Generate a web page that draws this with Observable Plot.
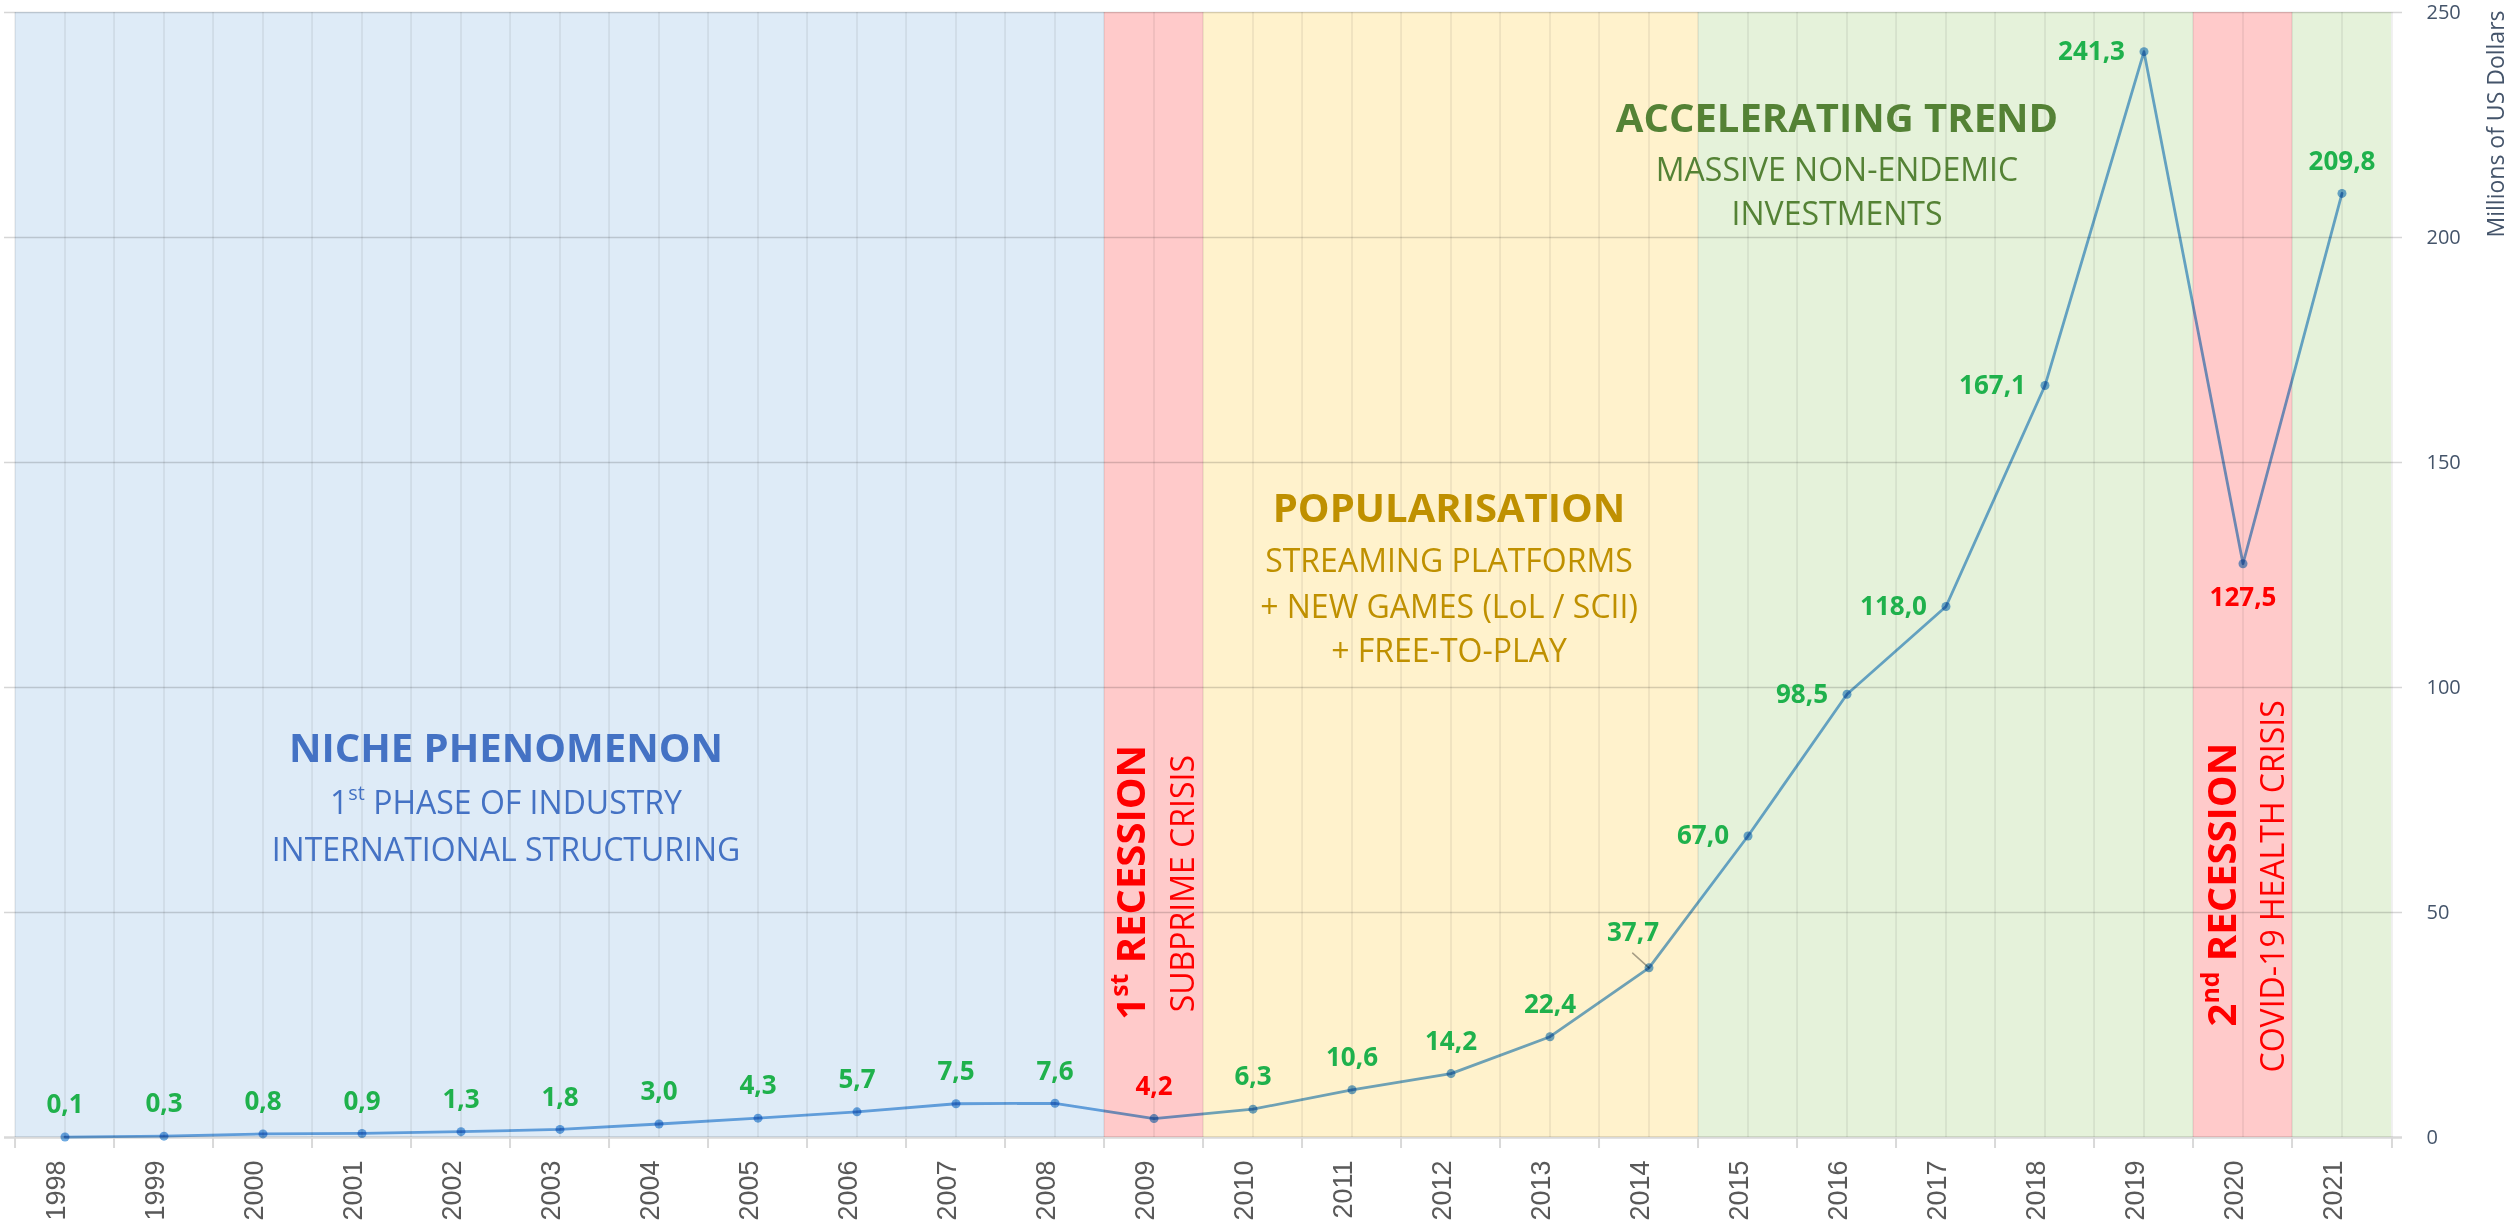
<!DOCTYPE html>
<html>
<head>
<meta charset="utf-8">
<script src="https://cdn.jsdelivr.net/npm/d3@7"></script>
<script src="https://cdn.jsdelivr.net/npm/@observablehq/plot@0.6"></script>
<style>
  html, body { margin: 0; padding: 0; background: #ffffff; overflow: hidden; }
  #chart svg { display: block; max-width: none; }
</style>
</head>
<body>
<div id="chart"></div>
<script>
// ---------------- DATA ----------------
const years = ["1998","1999","2000","2001","2002","2003","2004","2005","2006","2007","2008",
               "2009","2010","2011","2012","2013","2014","2015","2016","2017","2018","2019","2020","2021"];
const values = [0.1, 0.3, 0.8, 0.9, 1.3, 1.8, 3.0, 4.3, 5.7, 7.5, 7.6,
                4.2, 6.3, 10.6, 14.2, 22.4, 37.7, 67.0, 98.5, 118.0, 167.1, 241.3, 127.5, 209.8];
const phases = [
  {key: "niche",          first: "1998", last: "2008"},
  {key: "recession",      first: "2009", last: "2009"},
  {key: "popularisation", first: "2010", last: "2014"},
  {key: "accelerating",   first: "2015", last: "2019"},
  {key: "recession",      first: "2020", last: "2020"},
  {key: "accelerating",   first: "2021", last: "2021"}
];
const yTicks = [0, 50, 100, 150, 200, 250];
const yTitle = "Millions of US Dollars";
const nicheText = ["NICHE PHENOMENON", "1{st} PHASE OF INDUSTRY", "INTERNATIONAL STRUCTURING"];
const popularText = ["POPULARISATION", "STREAMING PLATFORMS", "+ NEW GAMES (LoL / SCII)", "+ FREE-TO-PLAY"];
const accelText = ["ACCELERATING TREND", "MASSIVE NON-ENDEMIC", "INVESTMENTS"];
const recession1Text = ["1{st} RECESSION", "SUBPRIME CRISIS"];
const recession2Text = ["2{nd} RECESSION", "COVID-19 HEALTH CRISIS"];

// ---------------- STYLE / LAYOUT ----------------
const W = 2509, H = 1226;
const M = {top: 12, right: 107, bottom: 89, left: 4};
const bw = (W - M.left - M.right) / years.length;
const FONT = "'Open Sans', sans-serif";
const phaseStyle = {
  niche:          {fill: "#DEEBF7", text: "#4472C4"},
  recession:      {fill: "#FFCACA", text: "#FF0000"},
  popularisation: {fill: "#FFF2CC", text: "#BF9000"},
  accelerating:   {fill: "#E5F2DA", text: "#548235"}
};
const lineColor = "#6EAAE1";
const labelGreen = "#1FB14C";
const leftLabels = new Set(["2015","2016","2017","2018","2019"]);
const belowLabels = new Set(["2020"]);
const leaderLabels = new Set(["2014"]);

const phaseOf = y => phases.find(p => y >= p.first && y <= p.last).key;
const rows = years.map((year, i) => ({year, value: values[i], phase: phaseOf(year)}));
const fmt = v => v.toFixed(1).replace(".", ",");
const labelFill = d => d.phase === "recession" ? phaseStyle.recession.text : labelGreen;

const TITLE = 40, SUB = 32, LABEL = 26;
const notes = [
  {t: nicheText[0], x: "2002", dx: 45, y: 86.2, size: TITLE, bold: true, c: phaseStyle.niche.text},
  {t: nicheText[1], x: "2002", dx: 45, y: 74.2, size: SUB, c: phaseStyle.niche.text},
  {t: nicheText[2], x: "2002", dx: 45, y: 63.8, size: SUB, c: phaseStyle.niche.text},
  {t: popularText[0], x: "2012", dx: -2, y: 139.6, size: TITLE, bold: true, c: phaseStyle.popularisation.text},
  {t: popularText[1], x: "2012", dx: -2, y: 128.0, size: SUB, c: phaseStyle.popularisation.text},
  {t: popularText[2], x: "2012", dx: -2, y: 117.8, size: SUB, c: phaseStyle.popularisation.text},
  {t: popularText[3], x: "2012", dx: -2, y: 108.0, size: SUB, c: phaseStyle.popularisation.text},
  {t: accelText[0], x: "2016", dx: -10, y: 226.4, size: TITLE, bold: true, c: phaseStyle.accelerating.text},
  {t: accelText[1], x: "2016", dx: -10, y: 214.9, size: SUB, c: phaseStyle.accelerating.text},
  {t: accelText[2], x: "2016", dx: -10, y: 205.1, size: SUB, c: phaseStyle.accelerating.text},
  {t: recession1Text[0], x: "2009", dx: -22, y: 56.7, size: TITLE, bold: true, rot: -90, c: phaseStyle.recession.text},
  {t: recession1Text[1], x: "2009", dx: 30, y: 56.4, size: SUB, rot: -90, c: phaseStyle.recession.text},
  {t: recession2Text[0], x: "2020", dx: -20, y: 56.2, size: TITLE, bold: true, rot: -90, c: phaseStyle.recession.text},
  {t: recession2Text[1], x: "2020", dx: 31, y: 55.8, size: SUB, rot: -90, c: phaseStyle.recession.text}
];

const last = [years[years.length - 1]];

const chart = Plot.plot({
  width: W, height: H,
  marginTop: M.top, marginRight: M.right, marginBottom: M.bottom, marginLeft: M.left,
  style: {fontFamily: FONT, background: "#ffffff", overflow: "visible", maxWidth: "none"},
  x: {type: "band", domain: years, padding: 0, axis: null},
  y: {domain: [0, 250], axis: null},
  color: {type: "identity"},
  marks: [
    // phase backgrounds
    Plot.barY(rows, {x: "year", y1: 0, y2: 250, fill: d => phaseStyle[d.phase].fill, inset: 0, shapeRendering: "crispEdges"}),
    // vertical grid: centres and edges
    Plot.ruleX(years, {x: d => d, y1: 0, y2: 250, stroke: "#EBEBEB", strokeWidth: 1.5, mixBlendMode: "multiply"}),
    Plot.ruleX(years, {x: d => d, dx: -bw / 2, y1: 0, y2: 250, stroke: "#EBEBEB", strokeWidth: 1.5, mixBlendMode: "multiply"}),
    Plot.ruleX(last, {x: d => d, dx: bw / 2, y1: 0, y2: 250, stroke: "#EBEBEB", strokeWidth: 1.5, mixBlendMode: "multiply"}),
    // horizontal grid
    Plot.ruleY(yTicks.filter(v => v > 0), {y: d => d, stroke: "#D6D6D6", strokeWidth: 1.5, mixBlendMode: "multiply"}),
    // x axis baseline and ticks
    Plot.ruleY([0], {y: d => d, stroke: "#D9D9D9", strokeWidth: 2.5, mixBlendMode: "multiply"}),
    Plot.ruleX(years, {x: d => d, dx: -bw / 2, y1: 0, y2: 0, insetBottom: -11, stroke: "#D9D9D9", strokeWidth: 2}),
    Plot.ruleX(last, {x: d => d, dx: bw / 2, y1: 0, y2: 0, insetBottom: -11, stroke: "#D9D9D9", strokeWidth: 2}),
    // x tick labels
    Plot.text(years, {x: d => d, text: d => d, frameAnchor: "bottom", dy: 23, rotate: -90, textAnchor: "end",
                      fontSize: 27, fontFamily: "'Liberation Sans', Arial, sans-serif", fill: "#595959"}),
    // y tick labels (right)
    Plot.text(yTicks, {y: d => d, text: d => String(d), frameAnchor: "right", dx: 24, textAnchor: "start",
                       fontSize: 20, fill: "#44546A"}),
    Plot.text([yTitle], {text: d => d, frameAnchor: "top-right", dx: 85, dy: -2, rotate: -90, textAnchor: "end",
                         fontSize: 23, fill: "#44546A"}),
    // phase annotations
    ...notes.map(n => Plot.text([n], {x: d => d.x, y: d => d.y, text: d => d.t, dx: n.dx, rotate: n.rot || 0,
                                       textAnchor: "middle", fontSize: n.size, fontWeight: n.bold ? "bold" : "normal",
                                       fill: n.c})),
    // leader line for 2014 label
    Plot.vector(rows.filter(d => leaderLabels.has(d.year)), {x: "year", y: "value", length: 22, rotate: -48, r: 0,
                anchor: "start", stroke: "#A6A6A6", strokeWidth: 1.5, mixBlendMode: "multiply"}),
    // series
    Plot.line(rows, {x: "year", y: "value", stroke: lineColor, strokeWidth: 2.8, mixBlendMode: "multiply"}),
    Plot.dot(rows, {x: "year", y: "value", r: 4.5, fill: lineColor, stroke: "none", mixBlendMode: "multiply"}),
    // data labels
    Plot.text(rows.filter(d => !leftLabels.has(d.year) && !belowLabels.has(d.year) && !leaderLabels.has(d.year)),
              {x: "year", y: "value", text: d => fmt(d.value), dy: -32, fill: labelFill, fontSize: LABEL, fontWeight: "bold"}),
    Plot.text(rows.filter(d => leftLabels.has(d.year)),
              {x: "year", y: "value", text: d => fmt(d.value), dx: -19, textAnchor: "end", fill: labelFill, fontSize: LABEL, fontWeight: "bold"}),
    Plot.text(rows.filter(d => belowLabels.has(d.year)),
              {x: "year", y: "value", text: d => fmt(d.value), dy: 34, fill: labelFill, fontSize: LABEL, fontWeight: "bold"}),
    Plot.text(rows.filter(d => leaderLabels.has(d.year)),
              {x: "year", y: "value", text: d => fmt(d.value), dx: -16, dy: -35, fill: labelFill, fontSize: LABEL, fontWeight: "bold"})
  ]
});

// superscripts marked with {…}
const SVGNS = "http://www.w3.org/2000/svg";
chart.querySelectorAll("text").forEach(t => {
  const s = t.textContent;
  if (!s.includes("{")) return;
  const parts = s.split(/[{}]/);
  while (t.firstChild) t.removeChild(t.firstChild);
  let raised = false;
  parts.forEach((p, i) => {
    if (!p) return;
    const ts = document.createElementNS(SVGNS, "tspan");
    ts.textContent = p;
    if (i % 2 === 1) {
      ts.setAttribute("font-size", "62%");
      ts.setAttribute("dy", "-0.68em");
      raised = true;
    } else if (raised) {
      ts.setAttribute("dy", "0.42em");
      raised = false;
    }
    t.appendChild(ts);
  });
});

document.getElementById("chart").appendChild(chart);
</script>
</body>
</html>
